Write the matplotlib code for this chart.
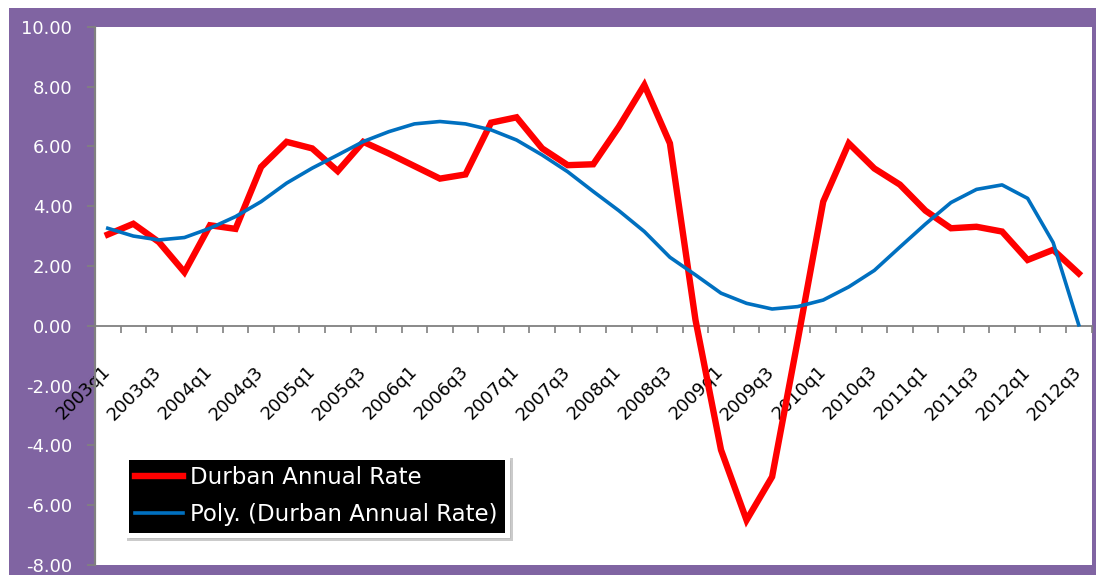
import numpy as np
import matplotlib
matplotlib.use("Agg")
import matplotlib.pyplot as plt
from matplotlib.patches import Rectangle

plt.rcParams["font.family"] = ["DejaVu Sans"]

# quarters 2003q1 .. 2012q3
quarters = [f"{y}q{q}" for y in range(2003, 2013) for q in range(1, 5)][:39]

durban_rate = [3.05, 3.41, 2.80, 1.79, 3.36, 3.24, 5.31, 6.15, 5.93, 5.17,
               6.15, 5.76, 5.34, 4.92, 5.06, 6.79, 6.97, 5.93, 5.37, 5.40,
               6.65, 8.05, 6.10, 0.20, -4.15, -6.50, -5.05, -0.50, 4.15, 6.10,
               5.26, 4.72, 3.85, 3.26, 3.31, 3.15, 2.20, 2.54, 1.75]

# polynomial trendline as drawn in the chart
poly_trend = [3.26, 3.00, 2.87, 2.95, 3.26, 3.65, 4.15, 4.77, 5.27, 5.71,
              6.16, 6.49, 6.75, 6.83, 6.75, 6.55, 6.21, 5.71, 5.15, 4.49,
              3.85, 3.15, 2.29, 1.70, 1.09, 0.75, 0.56, 0.64, 0.86, 1.30,
              1.85, 2.63, 3.40, 4.12, 4.56, 4.71, 4.26, 2.78, 0.03]

yticks = [-8, -6, -4, -2, 0, 2, 4, 6, 8, 10]

PURPLE = "#8064A2"
W, H = 1096, 575

fig = plt.figure(figsize=(W / 100, H / 100), dpi=100, facecolor="white")
fig.patches.append(Rectangle((9 / W, 0), 1 - 9 / W, (H - 8) / H,
                             transform=fig.transFigure, facecolor=PURPLE,
                             edgecolor="none", zorder=-10))

ax = fig.add_axes([95 / W, 10 / H, 996.5 / W, 538.3 / H])
ax.set_facecolor("white")

x = np.arange(len(quarters))
ax.plot(x, durban_rate, color="#FF0000", lw=4.6, solid_joinstyle="miter",
        label="Durban Annual Rate", zorder=3)
ax.plot(x, poly_trend, color="#0070C0", lw=2.6,
        label="Poly. (Durban Annual Rate)", zorder=4)

ax.set_xlim(-0.5, len(quarters) - 0.5)
ax.set_ylim(-8, 10)

for s in ["top", "right"]:
    ax.spines[s].set_visible(False)
ax.spines["left"].set_color("#808080")
ax.spines["left"].set_linewidth(1.6)
ax.spines["bottom"].set_position(("data", 0))
ax.spines["bottom"].set_color("#808080")
ax.spines["bottom"].set_linewidth(1.3)

ax.set_yticks(yticks)
ax.set_yticklabels([f"{v:.2f}" for v in yticks])
ax.tick_params(axis="y", colors="#808080", labelcolor="white", labelsize=13,
               length=5.8, width=1.3, pad=10.5)

# tick marks between categories, labels on every second category
ax.set_xticks(np.arange(-0.5, len(quarters), 1))
ax.set_xticklabels([])
ax.tick_params(axis="x", which="major", colors="#808080", length=5,
               width=1.2, direction="out")
ax.set_xticks(x[::2], minor=True)
ax.set_xticklabels(quarters[::2], minor=True, rotation=45, ha="right",
                   va="center", rotation_mode="anchor", fontsize=13)
ax.tick_params(axis="x", which="minor", length=0, pad=31, labelcolor="black")

leg = ax.legend(loc="lower left", bbox_to_anchor=(0.031, 0.055),
                borderaxespad=0, fontsize=16.5, facecolor="black",
                edgecolor="white", framealpha=1, fancybox=False,
                shadow={"color": "#999999"}, handlelength=2.1,
                handletextpad=0.3, labelspacing=0.6, borderpad=0.4)
leg.get_frame().set_linewidth(3.6)
for t in leg.get_texts():
    t.set_color("white")

fig.savefig("out.png", dpi=100, facecolor="white")
